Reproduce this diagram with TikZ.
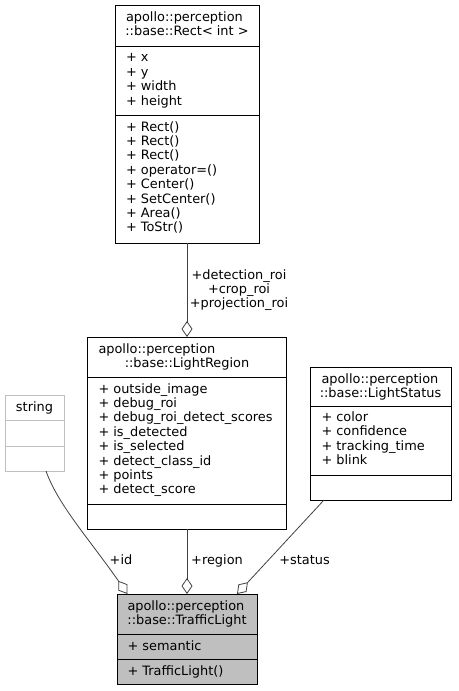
\documentclass[tikz,border=0pt]{standalone}
\usepackage{fontspec}
\setmainfont{DejaVu Sans}
\usetikzlibrary{arrows.meta}
\definecolor{edgegray}{HTML}{404040}
\definecolor{tlgray}{HTML}{BFBFBF}
\begin{document}
\begin{tikzpicture}[x=1pt,y=-1pt,
  box/.style={draw=black, line width=1pt, inner sep=0pt, outer sep=0pt, anchor=north west, fill=white},
  sep/.style={draw=black, line width=1pt},
  txt/.style={inner sep=0pt, outer sep=0pt, font=\fontsize{12.9}{14.4}\selectfont, anchor=base west},
  ctxt/.style={txt, anchor=base},
  agg/.style={draw=edgegray, line width=0.8pt, -{Diamond[open, length=16pt, width=11pt, line width=0.8pt]}}]
\useasboundingbox (0,0) rectangle (458,691);

% ---- Rect< int >
\node[box, minimum width=144pt, minimum height=238pt] (rect) at (115,5) {};
\draw[sep] (115,46) -- (259,46);
\draw[sep] (115,115) -- (259,115);
\node[txt] (rect-t1) at (126,21) {apollo::perception};
\node[ctxt] (rect-t2) at (187,35.4) {::base::Rect< int >};
\foreach [count=\i from 0] \t in {+ x,+ y,+ width,+ height}
  \node[txt] (rect-a\i) at (126,61.8+14.4*\i) {\t};
\foreach [count=\i from 0] \t in {+ Rect(),+ Rect(),+ Rect(),+ operator=(),+ Center(),+ SetCenter(),+ Area(),+ ToStr()}
  \node[txt] (rect-m\i) at (126,131+14.4*\i) {\t};

% ---- LightRegion
\node[box, minimum width=199pt, minimum height=192pt] (lr) at (87.5,337) {};
\draw[sep] (87.5,377) -- (286.5,377);
\draw[sep] (87.5,504) -- (286.5,504);
\node[txt] (lr-t1) at (98.5,353) {apollo::perception};
\node[ctxt] (lr-t2) at (187,367.4) {::base::LightRegion};
\foreach [count=\i from 0] \t in {+ outside\_image,+ debug\_roi,+ debug\_roi\_detect\_scores,+ is\_detected,+ is\_selected,+ detect\_class\_id,+ points,+ detect\_score}
  \node[txt] (lr-a\i) at (98.5,393+14.4*\i) {\t};

% ---- LightStatus
\node[box, minimum width=141pt, minimum height=133pt] (ls) at (310,367) {};
\draw[sep] (310,406) -- (451,406);
\draw[sep] (310,475) -- (451,475);
\node[txt] (ls-t1) at (321.5,383) {apollo::perception};
\node[ctxt] (ls-t2) at (380.5,397.4) {::base::LightStatus};
\foreach [count=\i from 0] \t in {+ color,+ confidence,+ tracking\_time,+ blink}
  \node[txt] (ls-a\i) at (321.5,421.5+14.4*\i) {\t};

% ---- string
\node[box, draw=tlgray, minimum width=59pt, minimum height=76pt] (str) at (5,395) {};
\draw[sep, draw=tlgray] (5,420) -- (64,420);
\draw[sep, draw=tlgray] (5,446) -- (64,446);
\node[ctxt] (str-t) at (34.5,411) {string};

% ---- TrafficLight
\node[box, fill=tlgray, minimum width=140pt, minimum height=90pt] (tl) at (117,594) {};
\draw[sep] (117,634) -- (257,634);
\draw[sep] (117,659) -- (257,659);
\node[txt] (tl-t1) at (127.5,610) {apollo::perception};
\node[ctxt] (tl-t2) at (187,624.4) {::base::TrafficLight};
\node[txt] (tl-a0) at (127.5,650) {+ semantic};
\node[txt] (tl-m0) at (127.5,675) {+ TrafficLight()};

% ---- connectors
\draw[agg] (rect.south) -- (lr.north);
\node[ctxt] (l-det) at (239,279) {+detection\_roi};
\node[ctxt] (l-crop) at (239,293.4) {+crop\_roi};
\node[ctxt] (l-proj) at (239,307.8) {+projection\_roi};

\draw[agg] ([xshift=-18pt]str.south east) .. controls (58,505) and (90,540) .. ([xshift=10.5pt]tl.north west);
\node[ctxt] (l-id) at (121,564) {+id};

\draw[agg] (lr.south) -- (tl.north);
\node[ctxt] (l-region) at (217,564) {+region};

\draw[agg] ([xshift=14pt]ls.south west) -- ([xshift=-20pt]tl.north east);
\node[ctxt] (l-status) at (304.5,564) {+status};
\end{tikzpicture}
\end{document}
